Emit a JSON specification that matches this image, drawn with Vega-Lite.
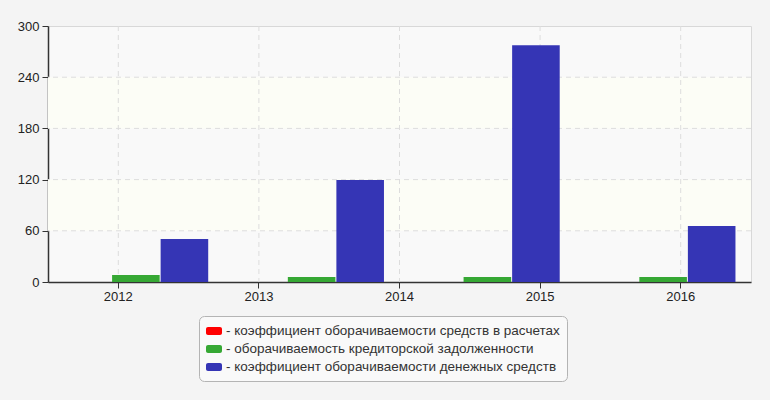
{
  "$schema": "https://vega.github.io/schema/vega-lite/v6.json",
  "width": 703,
  "height": 256,
  "autosize": {"type": "none"},
  "padding": {"left": 48, "top": 26, "right": 19, "bottom": 118},
  "background": "#f4f4f4",
  "config": {
    "font": "Liberation Sans",
    "view": {"fill": "#f9f9f9", "stroke": "#d8d8d8"},
    "axis": {"labelFont": "Liberation Sans", "labelFontSize": 13, "labelColor": "#222222"}
  },
  "datasets": {
    "bars": [
      {"year": "2012", "series": "коэффициент оборачиваемости средств в расчетах", "value": 0},
      {"year": "2012", "series": "оборачиваемость кредиторской задолженности", "value": 8.2},
      {"year": "2012", "series": "коэффициент оборачиваемости денежных средств", "value": 50.4},
      {"year": "2014", "series": "коэффициент оборачиваемости средств в расчетах", "value": 0},
      {"year": "2014", "series": "оборачиваемость кредиторской задолженности", "value": 5.9},
      {"year": "2014", "series": "коэффициент оборачиваемости денежных средств", "value": 119.5},
      {"year": "2015", "series": "коэффициент оборачиваемости средств в расчетах", "value": 0},
      {"year": "2015", "series": "оборачиваемость кредиторской задолженности", "value": 5.9},
      {"year": "2015", "series": "коэффициент оборачиваемости денежных средств", "value": 277.5},
      {"year": "2016", "series": "коэффициент оборачиваемости средств в расчетах", "value": 0},
      {"year": "2016", "series": "оборачиваемость кредиторской задолженности", "value": 5.9},
      {"year": "2016", "series": "коэффициент оборачиваемости денежных средств", "value": 65.6}
    ],
    "years": [
      {"year": "2012"}, {"year": "2013"}, {"year": "2014"}, {"year": "2015"}, {"year": "2016"}
    ],
    "bands": [
      {"lo": 60, "hi": 120},
      {"lo": 180, "hi": 240}
    ],
    "hgrid": [
      {"v": 60}, {"v": 120}, {"v": 180}, {"v": 240}
    ]
  },
  "layer": [
    {
      "data": {"name": "bands"},
      "mark": {"type": "rect", "color": "#fcfdf6"},
      "encoding": {
        "y": {"field": "lo", "type": "quantitative", "title": null},
        "y2": {"field": "hi"}
      }
    },
    {
      "data": {"name": "hgrid"},
      "mark": {"type": "rule", "color": "#dddddd", "strokeDash": [5, 4], "strokeWidth": 1},
      "encoding": {
        "y": {"field": "v", "type": "quantitative", "title": null}
      }
    },
    {
      "data": {"name": "years"},
      "mark": {"type": "rule", "color": "#dddddd", "strokeDash": [5, 4], "strokeWidth": 1},
      "encoding": {
        "x": {
          "field": "year",
          "type": "ordinal",
          "scale": {"paddingInner": 0, "paddingOuter": 0},
          "axis": {
            "title": null,
            "labelAngle": 0,
            "domainColor": "#333333",
            "domainWidth": 1.5,
            "tickColor": "#333333",
            "tickSize": 6,
            "labelPadding": 2,
            "grid": false
          }
        }
      }
    },
    {
      "data": {"name": "bars"},
      "mark": {"type": "bar"},
      "encoding": {
        "x": {
          "field": "year",
          "type": "ordinal",
          "scale": {"domain": ["2012", "2014", "2015", "2016"], "paddingInner": 0, "paddingOuter": 0},
          "axis": null
        },
        "xOffset": {
          "field": "series",
          "type": "nominal",
          "scale": {
            "domain": [
              "коэффициент оборачиваемости средств в расчетах",
              "оборачиваемость кредиторской задолженности",
              "коэффициент оборачиваемости денежных средств"
            ],
            "paddingInner": 0.02,
            "paddingOuter": 0.32
          }
        },
        "y": {
          "field": "value",
          "type": "quantitative",
          "title": null,
          "scale": {"domain": [0, 300], "nice": false},
          "axis": {
            "values": [0, 60, 120, 180, 240, 300],
            "grid": false,
            "domainColor": "#333333",
            "domainWidth": 1.5,
            "tickColor": "#333333",
            "tickSize": 6,
            "labelPadding": 3
          }
        },
        "color": {
          "field": "series",
          "type": "nominal",
          "scale": {
            "domain": [
              "коэффициент оборачиваемости средств в расчетах",
              "оборачиваемость кредиторской задолженности",
              "коэффициент оборачиваемости денежных средств"
            ],
            "range": ["#ff0000", "#36a834", "#3535b5"]
          },
          "legend": {
            "title": null,
            "orient": "none",
            "legendX": 151,
            "legendY": 290,
            "direction": "vertical",
            "fillColor": "#f9f9f9",
            "strokeColor": "#b4b4b4",
            "cornerRadius": 5,
            "padding": 7,
            "rowPadding": 3,
            "labelFont": "Liberation Sans",
            "labelFontSize": 13.5,
            "labelColor": "#333333",
            "labelOffset": 4,
            "labelLimit": 500,
            "labelExpr": "'- ' + datum.label",
            "symbolType": "M-0.75,-0.5H0.75A0.25,0.25 0 0 1 1,-0.25V0.25A0.25,0.25 0 0 1 0.75,0.5H-0.75A0.25,0.25 0 0 1 -1,0.25V-0.25A0.25,0.25 0 0 1 -0.75,-0.5Z",
            "symbolSize": 256,
            "symbolStrokeWidth": 0,
            "symbolOpacity": 1
          }
        }
      }
    }
  ],
  "resolve": {"scale": {"x": "independent"}, "axis": {"x": "independent"}}
}
